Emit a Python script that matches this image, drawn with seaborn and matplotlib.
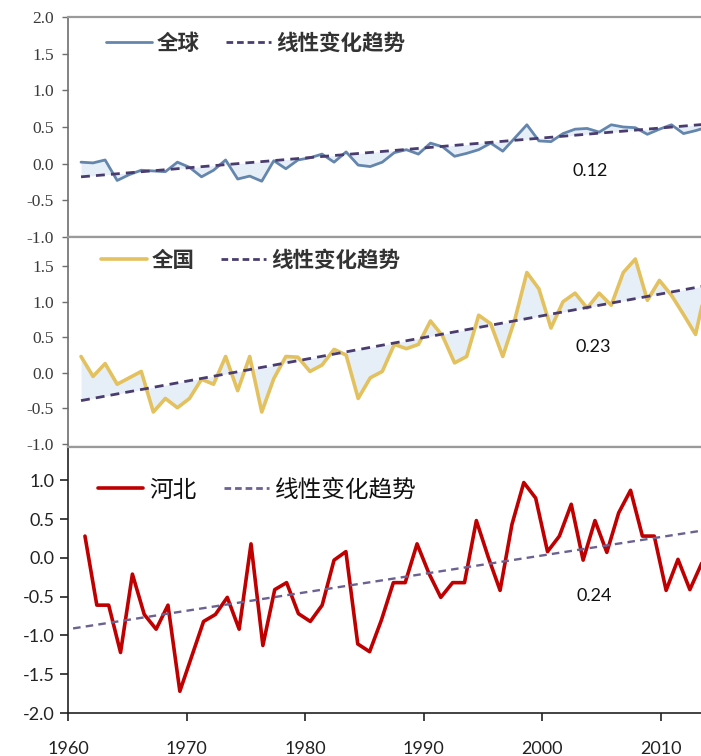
#!/usr/bin/env python3
"""Temperature anomaly series: global, national (China) and Hebei, 1961-2013,
each with its linear trend (per-decade rate written on the panel)."""

import matplotlib.lines as mlines
import matplotlib.pyplot as plt
import numpy as np
import pandas as pd
import seaborn as sns

YEARS = list(range(1961, 2014))

GLOBAL = [
    0.02, 0.01, 0.05, -0.23, -0.15, -0.09, -0.10, -0.11, 0.02, -0.05,
    -0.18, -0.09, 0.05, -0.21, -0.17, -0.24, 0.04, -0.07, 0.05, 0.08,
    0.13, 0.02, 0.16, -0.02, -0.04, 0.02, 0.15, 0.19, 0.13, 0.28,
    0.23, 0.10, 0.14, 0.19, 0.28, 0.17, 0.35, 0.53, 0.31, 0.30,
    0.41, 0.47, 0.48, 0.43, 0.53, 0.50, 0.49, 0.40, 0.47, 0.53,
    0.41, 0.45, 0.50,
]
NATIONAL = [
    0.23, -0.05, 0.13, -0.16, -0.07, 0.02, -0.55, -0.36, -0.49, -0.36,
    -0.09, -0.16, 0.23, -0.25, 0.23, -0.55, -0.08, 0.23, 0.22, 0.02,
    0.11, 0.33, 0.25, -0.36, -0.07, 0.02, 0.40, 0.34, 0.40, 0.73,
    0.52, 0.14, 0.23, 0.81, 0.69, 0.23, 0.75, 1.41, 1.18, 0.63,
    1.00, 1.12, 0.91, 1.12, 0.95, 1.41, 1.60, 1.02, 1.30, 1.09,
    0.82, 0.54, 1.30,
]
HEBEI = [
    0.28, -0.61, -0.61, -1.22, -0.21, -0.73, -0.92, -0.61, -1.72, -1.27,
    -0.82, -0.73, -0.51, -0.92, 0.18, -1.13, -0.41, -0.32, -0.72, -0.82,
    -0.61, -0.03, 0.08, -1.11, -1.21, -0.80, -0.32, -0.32, 0.18, -0.20,
    -0.51, -0.32, -0.32, 0.48, 0.01, -0.42, 0.43, 0.97, 0.77, 0.08,
    0.28, 0.69, -0.03, 0.48, 0.07, 0.58, 0.87, 0.28, 0.28, -0.42,
    -0.02, -0.41, -0.07,
]

# linear trend end points (year, value)
GLOBAL_TREND_X = [1961, 2013]
GLOBAL_TREND_Y = [-0.18, 0.54]
NATIONAL_TREND_X = [1961, 2013]
NATIONAL_TREND_Y = [-0.39, 1.23]
HEBEI_TREND_X = [1960, 2013]
HEBEI_TREND_Y = [-0.91, 0.35]

RATES = ["0.12", "0.23", "0.24"]
NAMES = ["全球", "全国", "河北"]
TREND_LABEL = "线性变化趋势"
DECADES = [1960, 1970, 1980, 1990, 2000, 2010]

CJK = ["Noto Sans CJK SC", "DejaVu Sans"]


def fmt(v):
    return f"{v:.1f}"


def main() -> None:
    sns.set_theme(style="white")
    plt.rcParams["font.family"] = CJK

    df = pd.DataFrame({"year": YEARS, "global": GLOBAL,
                       "national": NATIONAL, "hebei": HEBEI})

    fig, axes = plt.subplots(
        3, 1, figsize=(7.01, 7.56), dpi=100,
        gridspec_kw={"height_ratios": [219, 209, 265], "hspace": 0.0},
    )
    fig.subplots_adjust(left=68 / 701, right=1.0,
                        top=1 - 17 / 756, bottom=1 - 713 / 756)

    panels = [
        ("global", "#6486ad", "#4a3c6e", GLOBAL_TREND_X, GLOBAL_TREND_Y,
         (-1.0, 2.0), np.arange(-1.0, 2.01, 0.5), True),
        ("national", "#e3c15e", "#4a3c6e", NATIONAL_TREND_X, NATIONAL_TREND_Y,
         (-1.04, 1.91), np.arange(-1.0, 1.51, 0.5), True),
        ("hebei", "#c00000", "#6b6192", HEBEI_TREND_X, HEBEI_TREND_Y,
         (-2.0, 1.43), np.arange(-2.0, 1.01, 0.5), False),
    ]
    text_pos = [(0.825, 0.30), (0.829, 0.478), (0.831, 0.44)]
    legend_anchor = [(0.030, 1.016), (0.022, 1.030), (0.014, 0.960)]

    for i, (ax, (col, color, tcolor, tx, ty, ylim, yticks, serif)) in enumerate(
            zip(axes, panels)):
        lw = 2.0 if i == 0 else 2.6
        sns.lineplot(data=df, x="year", y=col, color=color, linewidth=lw,
                     ax=ax, zorder=3)
        ax.plot(tx, ty, color=tcolor, linewidth=2.0 if serif else 1.7,
                linestyle=(0, (3.2, 2.2)), zorder=4)
        if serif:
            trend_at = np.interp(YEARS, tx, ty)
            ax.fill_between(YEARS, df[col], trend_at, color="#e6eff8",
                            zorder=1, linewidth=0)

        ax.set_ylim(*ylim)
        ax.set_yticks(yticks)
        ax.set_yticklabels([fmt(v) for v in yticks])
        ax.set_xlabel("")
        ax.set_ylabel("")
        ax.spines["right"].set_visible(False)

        if serif:
            ax.set_xlim(1959.92, 2012.45)
            ax.set_xticks([])
            for s in ("top", "bottom"):
                ax.spines[s].set_color("#9a9a9a")
                ax.spines[s].set_linewidth(1.6)
            ax.spines["left"].set_color("#6e6e6e")
            ax.spines["left"].set_linewidth(1.2)
            ax.tick_params(axis="y", left=True, length=4, width=1.0,
                           color="#6e6e6e", labelsize=12.5,
                           labelcolor="#3a3a3a", pad=6)
            for lab in ax.get_yticklabels():
                lab.set_family(["Liberation Serif"])
        else:
            ax.set_xlim(1959.57, 2012.94)
            ax.set_xticks([d - 0.43 for d in DECADES])
            ax.set_xticklabels([str(d) for d in DECADES])
            ax.spines["top"].set_color("#9a9a9a")
            ax.spines["top"].set_linewidth(1.6)
            for s in ("left", "bottom"):
                ax.spines[s].set_color("#222222")
                ax.spines[s].set_linewidth(1.2)
            ax.tick_params(axis="both", left=True, bottom=True, length=6,
                           width=1.2, color="#222222", labelsize=13,
                           labelcolor="#222222")
            ax.tick_params(axis="x", pad=14)
            for lab in ax.get_yticklabels() + ax.get_xticklabels():
                lab.set_family(["Lato", "DejaVu Sans"])

        handles = [
            mlines.Line2D([], [], color=color, linewidth=lw, label=NAMES[i]),
            mlines.Line2D([], [], color=tcolor, linewidth=2.0,
                          linestyle=(0, (2.4, 1.4)), label=TREND_LABEL),
        ]
        leg = ax.legend(
            handles=handles, ncol=2, frameon=False, loc="upper left",
            bbox_to_anchor=legend_anchor[i],
            handlelength=2.1 if serif else 1.9, handletextpad=0.25,
            columnspacing=1.2,
            prop={"family": CJK, "size": 15.5 if serif else 17,
                  "weight": "bold" if serif else "normal"},
        )
        for t in leg.get_texts():
            t.set_color("#333333" if serif else "#111111")

        ax.text(*text_pos[i], RATES[i], transform=ax.transAxes,
                ha="center", va="center", fontsize=13, color="#111111",
                family=["Lato", "DejaVu Sans"])

    fig.savefig("out.png", dpi=100)
    plt.close(fig)


if __name__ == "__main__":
    main()
